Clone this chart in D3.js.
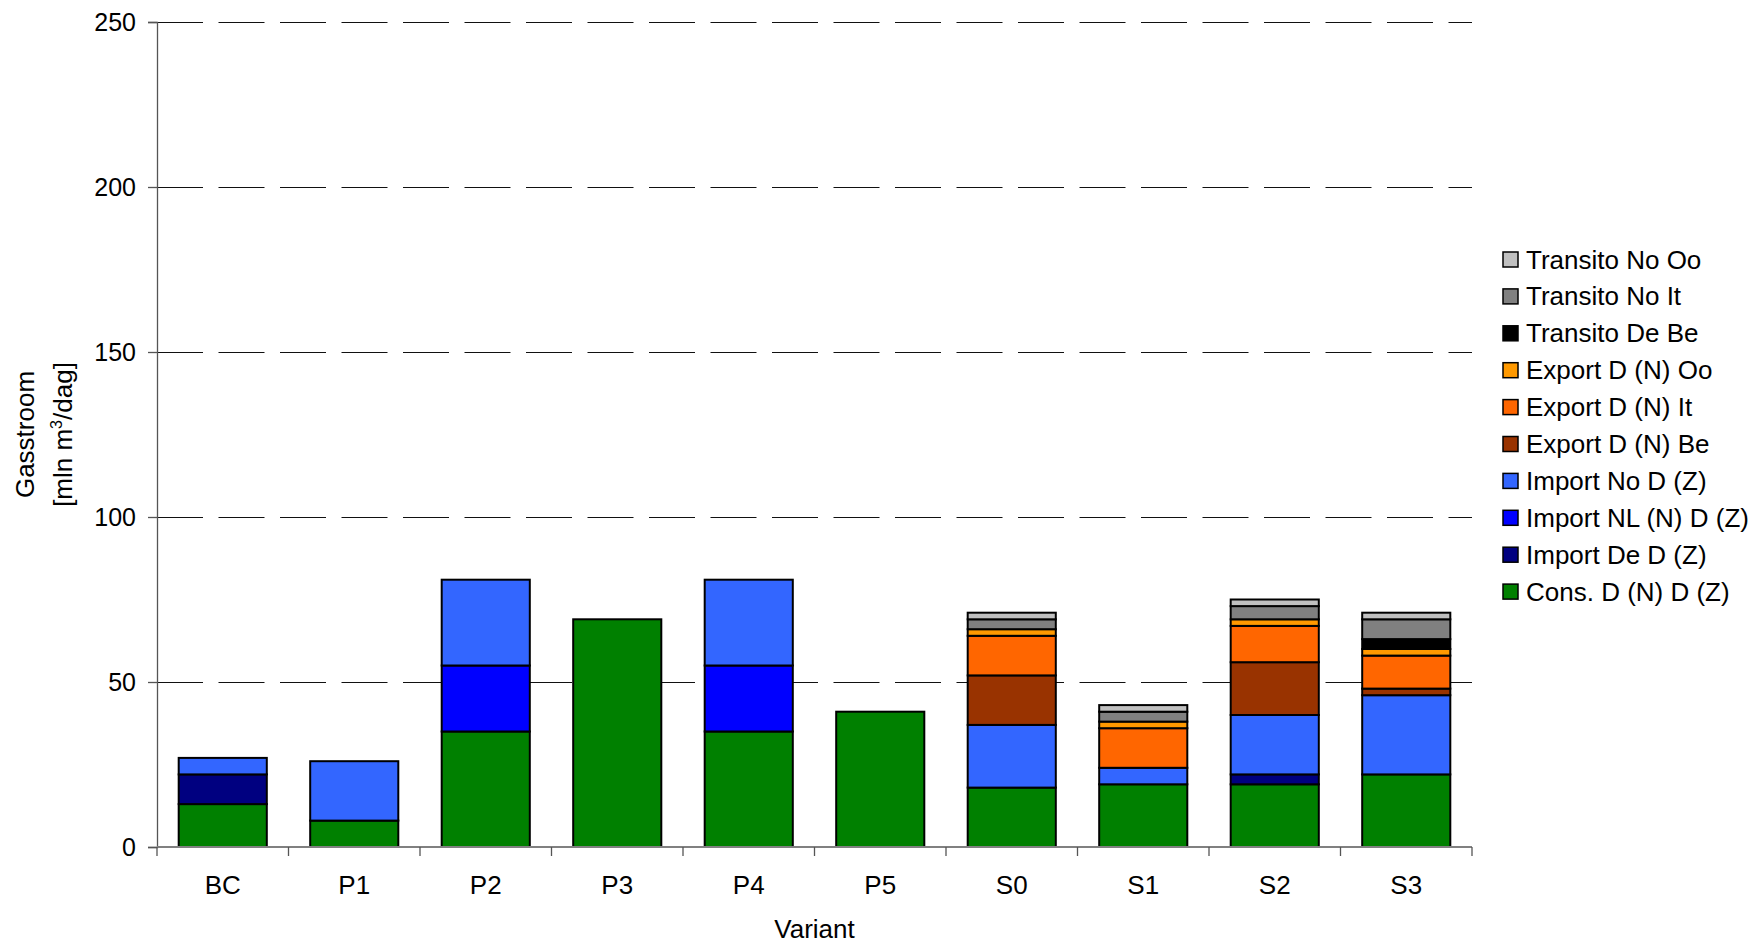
<!DOCTYPE html>
<html>
<head>
<meta charset="utf-8">
<script src="https://cdn.jsdelivr.net/npm/d3@7"></script>
<style>
  body { margin: 0; background: #fff; }
  text { font-family: "Liberation Sans", Arial, sans-serif; fill: #000; }
</style>
</head>
<body>
<div id="chart"></div>
<script>
// categories
const variants = ['BC', 'P1', 'P2', 'P3', 'P4', 'P5', 'S0', 'S1', 'S2', 'S3'];

// series values (mln m3/dag), bottom to top of each stack
const consD      = [13, 8, 35, 69, 35, 41, 18, 19, 19, 22];
const importDe   = [9, 0, 0, 0, 0, 0, 0, 0, 3, 0];
const importNL   = [0, 0, 20, 0, 20, 0, 0, 0, 0, 0];
const importNo   = [5, 18, 26, 0, 26, 0, 19, 5, 18, 24];
const exportBe   = [0, 0, 0, 0, 0, 0, 15, 0, 16, 2];
const exportIt   = [0, 0, 0, 0, 0, 0, 12, 12, 11, 10];
const exportOo   = [0, 0, 0, 0, 0, 0, 2, 2, 2, 2];
const transDeBe  = [0, 0, 0, 0, 0, 0, 0, 0, 0, 3];
const transNoIt  = [0, 0, 0, 0, 0, 0, 3, 3, 4, 6];
const transNoOo  = [0, 0, 0, 0, 0, 0, 2, 2, 2, 2];

const seriesNames = ['Cons. D (N) D (Z)', 'Import De D (Z)', 'Import NL (N) D (Z)', 'Import No D (Z)',
  'Export D (N) Be', 'Export D (N) It', 'Export D (N) Oo', 'Transito De Be', 'Transito No It', 'Transito No Oo'];
const seriesValues = [consD, importDe, importNL, importNo, exportBe, exportIt, exportOo, transDeBe, transNoIt, transNoOo];
const seriesColors = ['#008000', '#000080', '#0000ff', '#3366ff', '#993300', '#ff6600', '#ff9900', '#000000', '#808080', '#c0c0c0'];

const yTicks = [0, 50, 100, 150, 200, 250];

let w = 1757, h = 944;
let mLeft = 157, mTop = 22, plotW = 1315, plotH = 825;

let rows = variants.map((v, i) => {
  let r = { variant: v };
  seriesNames.forEach((s, k) => r[s] = seriesValues[k][i]);
  return r;
});
let stacked = d3.stack().keys(seriesNames)(rows);

let xScale = d3.scaleBand().domain(variants).range([mLeft, mLeft + plotW])
               .paddingInner(0.33).paddingOuter(0.165);
let yScale = d3.scaleLinear().domain([0, 250]).range([mTop + plotH, mTop]);
let color = d3.scaleOrdinal().domain(seriesNames).range(seriesColors);

let svg = d3.select('#chart').append('svg').attr('width', w).attr('height', h);

// dashed grid lines
svg.append('g')
   .selectAll('line')
   .data(yTicks.filter(d => d > 0))
   .enter()
   .append('line')
   .attr('x1', mLeft).attr('x2', mLeft + plotW)
   .attr('y1', d => yScale(d) + 0.5).attr('y2', d => yScale(d) + 0.5)
   .attr('stroke', '#111').attr('stroke-width', 1)
   .attr('stroke-dasharray', '46,15.5');

// bars
svg.append('g')
   .selectAll('g')
   .data(stacked)
   .enter()
   .append('g')
   .attr('fill', d => color(d.key))
   .selectAll('rect')
   .data(d => d.filter(p => p[1] - p[0] > 0))
   .enter()
   .append('rect')
   .attr('x', d => xScale(d.data.variant))
   .attr('y', d => yScale(d[1]))
   .attr('width', xScale.bandwidth())
   .attr('height', d => yScale(d[0]) - yScale(d[1]))
   .attr('stroke', '#000').attr('stroke-width', 2);

// y axis
let yAxis = d3.axisLeft(yScale).tickValues(yTicks).tickSize(9).tickPadding(12);
let gy = svg.append('g').attr('transform', 'translate(' + mLeft + ',0)').call(yAxis);
gy.select('.domain').attr('stroke', '#555').attr('stroke-width', 1.3);
gy.selectAll('.tick line').attr('stroke', '#555').attr('stroke-width', 1.3);
gy.selectAll('.tick text').style('font-size', '25px');
gy.attr('font-family', null).attr('font-size', null);

// x axis, ticks between categories
let step = xScale.step();
let xEdges = d3.range(variants.length + 1).map(i => mLeft + i * step);
let gx = svg.append('g');
gx.append('line')
  .attr('x1', mLeft).attr('x2', mLeft + plotW)
  .attr('y1', mTop + plotH).attr('y2', mTop + plotH)
  .attr('stroke', '#808080').attr('stroke-width', 2);
gx.selectAll('line.tk')
  .data(xEdges)
  .enter()
  .append('line')
  .attr('class', 'tk')
  .attr('x1', d => d).attr('x2', d => d)
  .attr('y1', mTop + plotH).attr('y2', mTop + plotH + 9)
  .attr('stroke', '#555').attr('stroke-width', 1.3);
gx.selectAll('text')
  .data(variants)
  .enter()
  .append('text')
  .attr('x', d => xScale(d) + xScale.bandwidth() / 2)
  .attr('y', 894)
  .attr('text-anchor', 'middle')
  .style('font-size', '26px')
  .text(d => d);

// axis titles
svg.append('text')
   .attr('x', mLeft + plotW / 2).attr('y', 938)
   .attr('text-anchor', 'middle')
   .style('font-size', '26px')
   .text('Variant');

let yt = svg.append('text')
   .attr('transform', 'translate(34,' + (mTop + plotH / 2) + ') rotate(-90)')
   .attr('text-anchor', 'middle')
   .style('font-size', '26px');
yt.append('tspan').attr('x', 0).attr('y', 0).text('Gasstroom');
let l2 = yt.append('tspan').attr('x', 0).attr('y', 38);
l2.append('tspan').text('[mln m');
l2.append('tspan').attr('dy', -10).style('font-size', '16px').text('3');
l2.append('tspan').attr('dy', 10).text('/dag]');

// legend (top to bottom = top of stack first)
let legendItems = seriesNames.slice().reverse();
let legend = svg.append('g');
legend.selectAll('rect')
      .data(legendItems)
      .enter()
      .append('rect')
      .attr('x', 1503)
      .attr('y', (d, i) => 252 + i * 36.9)
      .attr('width', 15).attr('height', 15)
      .attr('fill', d => color(d))
      .attr('stroke', '#000').attr('stroke-width', 1.5);
legend.selectAll('text')
      .data(legendItems)
      .enter()
      .append('text')
      .attr('x', 1526)
      .attr('y', (d, i) => 268.5 + i * 36.9)
      .style('font-size', '26px')
      .text(d => d);
</script>
</body>
</html>
